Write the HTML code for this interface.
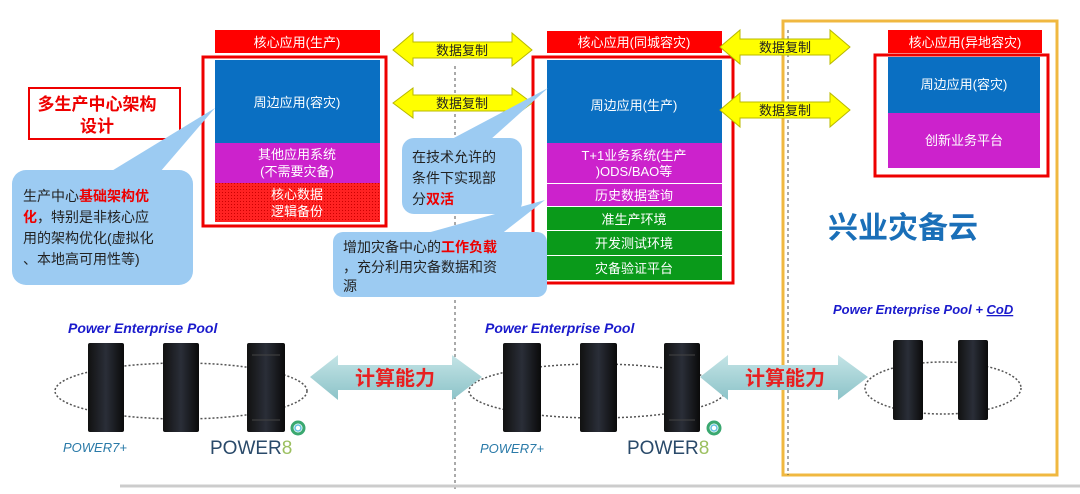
<!DOCTYPE html>
<html><head><meta charset="utf-8"><style>
html,body{margin:0;padding:0;background:#fff;}
svg text{font-family:"Liberation Sans","Noto Sans CJK SC",sans-serif;}
</style></head><body>
<svg width="1080" height="489" viewBox="0 0 1080 489" xmlns="http://www.w3.org/2000/svg">
<defs>
<pattern id="dots" width="3" height="3" patternUnits="userSpaceOnUse"><rect width="3" height="3" fill="#f22"/><rect width="1" height="1" fill="#c00"/></pattern>
<linearGradient id="rack" x1="0" x2="1"><stop offset="0" stop-color="#111"/><stop offset="0.5" stop-color="#2a2e38"/><stop offset="1" stop-color="#0a0a0a"/></linearGradient>
<linearGradient id="teal" x1="0" y1="0" x2="0" y2="1"><stop offset="0" stop-color="#c4e4e6"/><stop offset="1" stop-color="#8cc3c8"/></linearGradient>
</defs>
<!-- gold box -->
<rect x="783" y="21" width="274" height="454" fill="none" stroke="#f0b840" stroke-width="3"/>
<!-- dashed lines -->
<line x1="455" y1="66" x2="455" y2="489" stroke="#555" stroke-dasharray="3,3"/>
<line x1="788" y1="30" x2="788" y2="475" stroke="#555" stroke-dasharray="3,3"/>
<!-- left column -->
<rect x="215" y="30" width="165" height="23" fill="#f00"/>
<text x="297" y="47" fill="#fff" font-size="13" text-anchor="middle">核心应用(生产)</text>
<rect x="215" y="60" width="165" height="83" fill="#0a6fc2"/>
<text x="297" y="107" fill="#fff" font-size="13" text-anchor="middle">周边应用(容灾)</text>
<rect x="215" y="143" width="165" height="40" fill="#cc22cc"/>
<text x="297" y="159" fill="#fff" font-size="13" text-anchor="middle">其他应用系统</text>
<text x="297" y="176" fill="#fff" font-size="13" text-anchor="middle">(不需要灾备)</text>
<rect x="215" y="183" width="165" height="39" fill="url(#dots)"/>
<text x="297" y="199" fill="#fff" font-size="13" text-anchor="middle">核心数据</text>
<text x="297" y="216" fill="#fff" font-size="13" text-anchor="middle">逻辑备份</text>
<rect x="203" y="57" width="183" height="169" fill="none" stroke="#e00" stroke-width="3"/>
<!-- middle column -->
<rect x="547" y="31" width="175" height="22" fill="#f00"/>
<text x="634" y="47" fill="#fff" font-size="13" text-anchor="middle">核心应用(同城容灾)</text>
<rect x="547" y="60" width="175" height="83" fill="#0a6fc2"/>
<text x="634" y="110" fill="#fff" font-size="13" text-anchor="middle">周边应用(生产)</text>
<rect x="547" y="143" width="175" height="40" fill="#cc22cc"/>
<text x="634" y="160" fill="#fff" font-size="13" text-anchor="middle">T+1业务系统(生产</text>
<text x="634" y="176" fill="#fff" font-size="13" text-anchor="middle">)ODS/BAO等</text>
<rect x="547" y="184" width="175" height="22" fill="#cc22cc"/>
<text x="634" y="200" fill="#fff" font-size="13" text-anchor="middle">历史数据查询</text>
<rect x="547" y="207" width="175" height="23" fill="#0a9a1a"/>
<text x="634" y="224" fill="#fff" font-size="13" text-anchor="middle">准生产环境</text>
<rect x="547" y="231" width="175" height="24" fill="#0a9a1a"/>
<text x="634" y="248" fill="#fff" font-size="13" text-anchor="middle">开发测试环境</text>
<rect x="547" y="256" width="175" height="24" fill="#0a9a1a"/>
<text x="634" y="273" fill="#fff" font-size="13" text-anchor="middle">灾备验证平台</text>
<rect x="533" y="57" width="200" height="226" fill="none" stroke="#e00" stroke-width="3"/>
<!-- right column -->
<rect x="888" y="30" width="154" height="23" fill="#f00"/>
<text x="965" y="47" fill="#fff" font-size="13" text-anchor="middle">核心应用(异地容灾)</text>
<rect x="888" y="57" width="152" height="56" fill="#0a6fc2"/>
<text x="964" y="89" fill="#fff" font-size="13" text-anchor="middle">周边应用(容灾)</text>
<rect x="888" y="113" width="152" height="55" fill="#cc22cc"/>
<text x="964" y="145" fill="#fff" font-size="13" text-anchor="middle">创新业务平台</text>
<rect x="875" y="55" width="173" height="121" fill="none" stroke="#e00" stroke-width="3"/>
<text x="903" y="238" fill="#1a6fb8" font-size="30" font-weight="bold" text-anchor="middle">兴业灾备云</text>
<!-- yellow arrows -->
<g fill="#ffff00" stroke="#b8b800" stroke-width="1">
<polygon points="393,50 413,33 413,42 512,42 512,33 532,50 512,66 512,58 413,58 413,66"/>
<polygon points="393,103 413,88 413,95 512,95 512,88 532,103 512,118 512,111 413,111 413,118"/>
<polygon points="720,47 740,30 740,39 830,39 830,30 850,47 830,64 830,55 740,55 740,64"/>
<polygon points="720,110 740,93 740,102 830,102 830,93 850,110 830,127 830,118 740,118 740,127"/>
</g>
<g font-size="13" fill="#222" text-anchor="middle">
<text x="462" y="55">数据复制</text><text x="462" y="108">数据复制</text>
<text x="785" y="52">数据复制</text><text x="785" y="115">数据复制</text>
</g>
<!-- title -->
<rect x="29" y="88" width="151" height="51" fill="#fff" stroke="#e00" stroke-width="2"/>
<text x="97" y="110" fill="#e00" font-size="17" font-weight="bold" text-anchor="middle">多生产中心架构</text>
<text x="97" y="132" fill="#e00" font-size="17" font-weight="bold" text-anchor="middle">设计</text>
<!-- callouts -->
<g fill="#9ccbf2">
<polygon points="110,172 215,108 160,172"/>
<rect x="12" y="170" width="181" height="115" rx="14"/>
<polygon points="450,140 548,88 490,140"/>
<rect x="402" y="138" width="120" height="76" rx="12"/>
<polygon points="420,235 545,200 500,235"/>
<rect x="333" y="232" width="214" height="65" rx="10"/>
</g>
<g font-size="14" fill="#222">
<text x="23" y="201">生产中心<tspan fill="#e00" font-weight="bold">基础架构优</tspan></text>
<text x="23" y="222"><tspan fill="#e00" font-weight="bold">化</tspan>，特别是非核心应</text>
<text x="23" y="243">用的架构优化(虚拟化</text>
<text x="23" y="264">、本地高可用性等)</text>
<text x="412" y="162">在技术允许的</text>
<text x="412" y="183">条件下实现部</text>
<text x="412" y="204">分<tspan fill="#e00" font-weight="bold">双活</tspan></text>
<text x="343" y="252">增加灾备中心的<tspan fill="#e00" font-weight="bold">工作负载</tspan></text>
<text x="343" y="272">，充分利用灾备数据和资</text>
<text x="343" y="291">源</text>
</g>
<!-- bottom labels -->
<g font-size="14" font-weight="bold" font-style="italic" fill="#1a1acc">
<text x="68" y="333">Power Enterprise Pool</text>
<text x="485" y="333">Power Enterprise Pool</text>
<text x="833" y="314" font-size="13">Power Enterprise Pool  + <tspan text-decoration="underline">CoD</tspan></text>
</g>
<!-- ellipses -->
<g fill="none" stroke="#555" stroke-width="1.5" stroke-dasharray="2,2">
<ellipse cx="181" cy="391" rx="126" ry="28"/>
<ellipse cx="597" cy="391" rx="128" ry="27"/>
<ellipse cx="943" cy="388" rx="78" ry="26"/>
</g>
<!-- racks -->
<g fill="url(#rack)">
<rect x="88" y="343" width="36" height="89" rx="2"/>
<rect x="163" y="343" width="36" height="89" rx="2"/>
<rect x="247" y="343" width="38" height="89" rx="2"/>
<rect x="503" y="343" width="38" height="89" rx="2"/>
<rect x="580" y="343" width="37" height="89" rx="2"/>
<rect x="664" y="343" width="36" height="89" rx="2"/>
<rect x="893" y="340" width="30" height="80" rx="2"/>
<rect x="958" y="340" width="30" height="80" rx="2"/>
</g>
<g stroke="#444" stroke-width="1"><line x1="252" y1="355" x2="280" y2="355"/><line x1="252" y1="420" x2="280" y2="420"/><line x1="669" y1="355" x2="695" y2="355"/><line x1="669" y1="420" x2="695" y2="420"/></g>
<!-- teal arrows -->
<polygon points="310,377 338,355 338,365 452,365 452,355 482,377 452,400 452,390 338,390 338,400" fill="url(#teal)"/>
<polygon points="700,377 728,355 728,365 838,365 838,355 868,377 838,400 838,390 728,390 728,400" fill="url(#teal)"/>
<g font-size="20" fill="#e82020" font-weight="bold" text-anchor="middle">
<text x="395" y="385">计算能力</text><text x="785" y="385">计算能力</text>
</g>
<!-- power labels -->
<g font-size="13" font-style="italic" fill="#2a7aa8">
<text x="63" y="452">POWER7+</text><text x="480" y="453">POWER7+</text>
</g>
<g font-size="19" fill="#2a4a6a">
<text x="210" y="454">POWER<tspan fill="#9cc060">8</tspan></text>
<text x="627" y="454">POWER<tspan fill="#9cc060">8</tspan></text>
</g>
<g fill="none" stroke-width="3"><circle cx="298" cy="428" r="6" stroke="#3aa870"/><circle cx="298" cy="428" r="3" stroke="#60c0e0" stroke-width="1.5"/>
<circle cx="714" cy="428" r="6" stroke="#3aa870"/><circle cx="714" cy="428" r="3" stroke="#60c0e0" stroke-width="1.5"/></g>
<line x1="120" y1="486" x2="1080" y2="486" stroke="#ccc" stroke-width="3"/>
</svg>
</body></html>
